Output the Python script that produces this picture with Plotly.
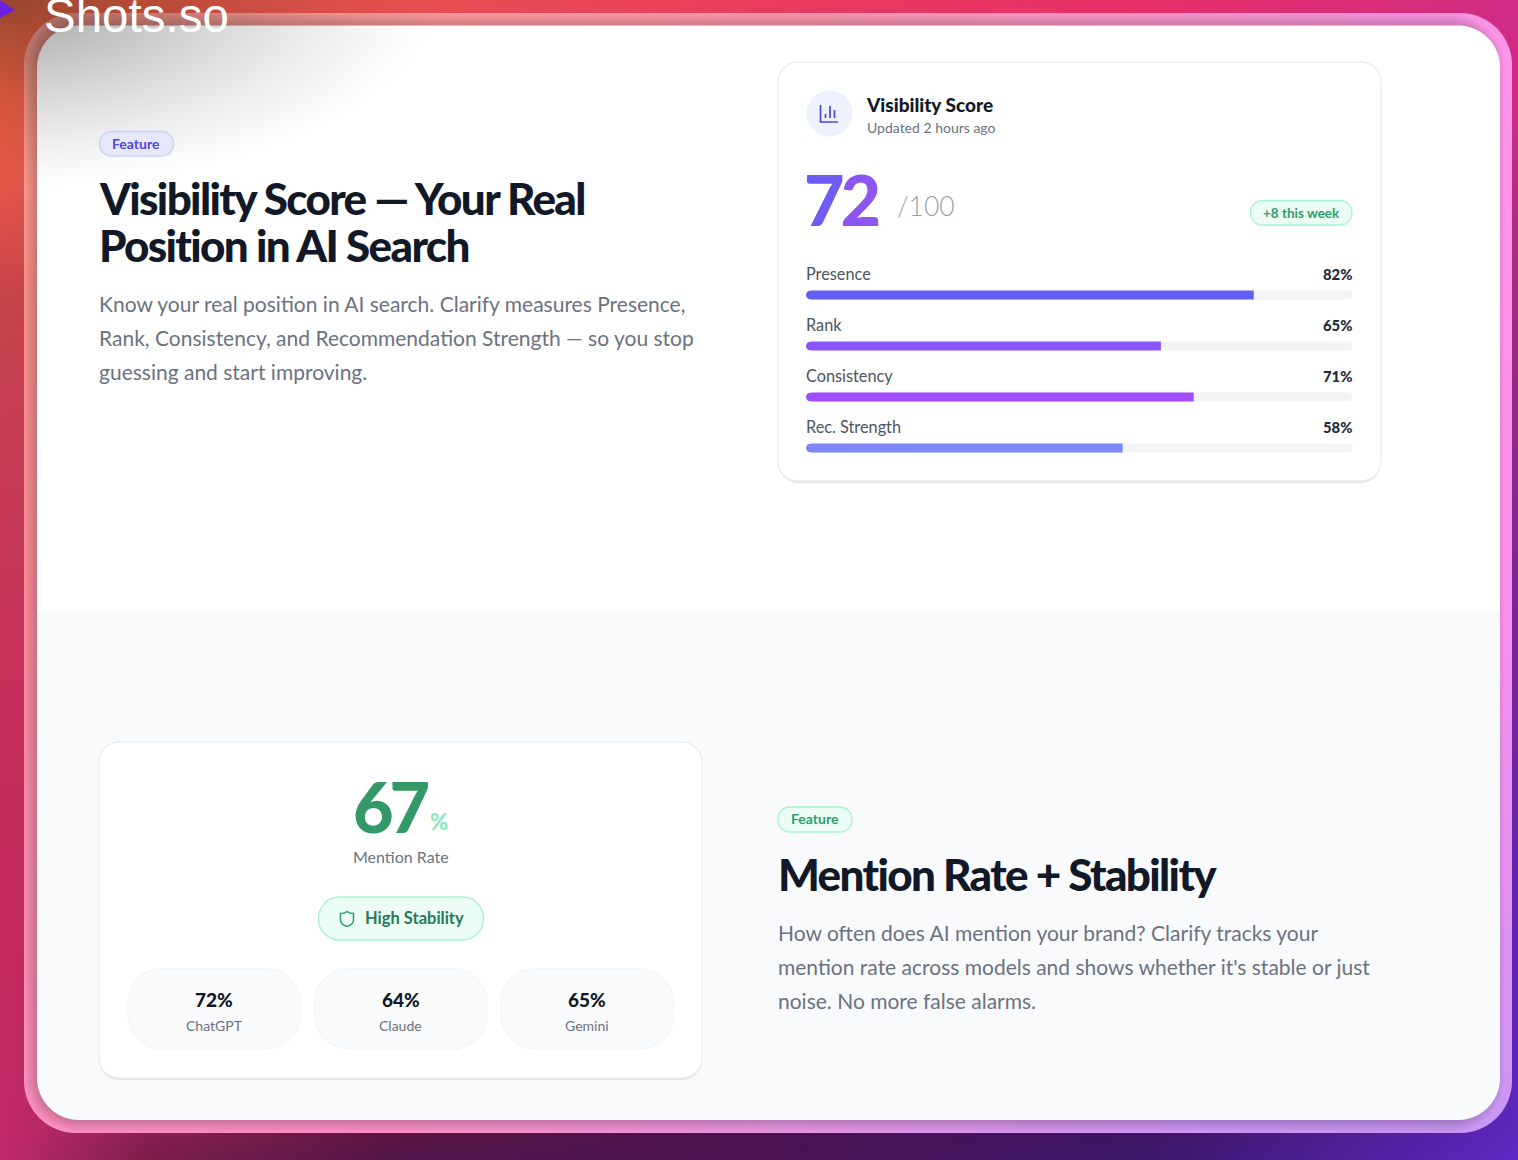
import base64
import struct
import zlib

import numpy as np
import plotly.graph_objects as go

W, H = 1518, 1160

# values
bar_labels = ["Presence", "Rank", "Consistency", "Rec. Strength"]
bar_values = [82, 65, 71, 58]
bar_colors = ["#6060f8", "#8a55fa", "#a34cfc", "#7f88f8"]
model_names = ["ChatGPT", "Claude", "Gemini"]
model_values = [72, 64, 65]
score = 72
mention_rate = 67

body_top = ["Know your real position in AI search. Clarify measures Presence,",
            "Rank, Consistency, and Recommendation Strength — so you stop",
            "guessing and start improving."]
body_bottom = ["How often does AI mention your brand? Clarify tracks your",
               "mention rate across models and shows whether it's stable or just",
               "noise. No more false alarms."]

# wallpaper and frame colours, sampled along the visible edges
bg_x = [0, 150, 400, 760, 1140, 1518]
bg_y = [0, 100, 300, 600, 900, 1130, 1160]
bg_grid = [
    ["#f07048", "#ec6048", "#e85050", "#ea3c5e", "#e83068", "#d02c84"],
    ["#f86448", "#e05048", "#e04a58", "#d83a68", "#d83070", "#cc2c84"],
    ["#c6444c", "#c23f4e", "#c83a58", "#c03468", "#b83078", "#a02a80"],
    ["#c4335a", "#c4335a", "#b0305c", "#a02c70", "#902880", "#7c2498"],
    ["#c42a5c", "#c42a5c", "#90245c", "#702068", "#60208c", "#6024ac"],
    ["#c42a68", "#8a2050", "#5a1640", "#4a1250", "#3e1460", "#5c26bc"],
    ["#c02a6c", "#7a1f48", "#50144a", "#4a1250", "#3a1668", "#6028c4"],
]
frame_x = [0, 400, 800, 1200, 1518]
frame_y = [0, 300, 600, 900, 1160]
frame_grid = [
    ["#ffa090", "#ff9c9c", "#ff98b0", "#ff98d0", "#fc94e8"],
    ["#f89088", "#f89098", "#f890b0", "#f890d0", "#fc92ea"],
    ["#fb8c9c", "#f88ca8", "#f08cc0", "#f08cd8", "#fc90ee"],
    ["#f88cb0", "#f88cb8", "#f08cd0", "#e090e8", "#e090f0"],
    ["#ff90c0", "#ff90c8", "#e898e8", "#cc98fa", "#c498f4"],
]


def to_rgb(code):
    return [int(code[i:i + 2], 16) for i in (1, 3, 5)]


def grid_image(grid, xs, ys):
    # stretch a small colour table over the whole page
    g = np.array([[to_rgb(c) for c in row] for row in grid], dtype=float)
    px, py = np.arange(W), np.arange(H)
    rows = np.stack([np.stack([np.interp(px, xs, g[j, :, k]) for k in range(3)], -1)
                     for j in range(len(ys))])
    return np.stack([np.stack([np.interp(py, ys, rows[:, i, k]) for k in range(3)], -1)
                     for i in range(W)], 1)


def box_dist(x0, y0, x1, y1, r):
    px, py = np.meshgrid(np.arange(W) + 0.5, np.arange(H) + 0.5)
    qx = np.abs(px - (x0 + x1) / 2) - (x1 - x0) / 2 + r
    qy = np.abs(py - (y0 + y1) / 2) - (y1 - y0) / 2 + r
    return np.hypot(np.maximum(qx, 0), np.maximum(qy, 0)) + np.minimum(np.maximum(qx, qy), 0) - r


def backdrop():
    img = grid_image(bg_grid, bg_x, bg_y)
    frame = grid_image(frame_grid, frame_x, frame_y)
    outer = box_dist(24, 13, 1512, 1133, 52)
    inner = box_dist(37, 25.5, 1500, 1120, 42)
    # frame, a little darker where it meets the panel, less so on the right
    lit = box_dist(37, 25.5, 1492, 1120, 42)
    dark = 0.2 * np.clip(1 - lit / 13, 0, 1)
    frame = frame * (1 - dark[..., None])
    a = np.clip(0.5 - outer, 0, 1)[..., None]
    img = img * (1 - a) + frame * a
    # white panel, grey lower section
    panel = np.full((H, W, 3), 255.0)
    panel[612:] = to_rgb("#f9fafb")
    a = np.clip(0.5 - inner, 0, 1)[..., None]
    img = img * (1 - a) + panel * a
    # dark haze in the top left corner
    px, py = np.meshgrid(np.arange(W), np.arange(H))
    r = np.sqrt((px / 440) ** 2 + (py / 190) ** 2)
    haze = 0.37 * np.clip(1 - r, 0, 1) ** 1.25
    img = img * (1 - haze[..., None])
    return np.clip(img + 0.5, 0, 255).astype(np.uint8)


def png_uri(arr):
    raw = b"".join(b"\x00" + arr[i].tobytes() for i in range(arr.shape[0]))

    def chunk(tag, data):
        return struct.pack(">I", len(data)) + tag + data + struct.pack(">I", zlib.crc32(tag + data))

    head = struct.pack(">IIBBBBB", arr.shape[1], arr.shape[0], 8, 2, 0, 0, 0)
    blob = b"\x89PNG\r\n\x1a\n" + chunk(b"IHDR", head) + chunk(b"IDAT", zlib.compress(raw, 9)) + chunk(b"IEND", b"")
    return "data:image/png;base64," + base64.b64encode(blob).decode()


def rr(x0, y0, x1, y1, r):
    # rounded rectangle as a bezier path
    k = r * 0.45
    return (f"M{x0 + r},{y0} L{x1 - r},{y0} C{x1 - k},{y0} {x1},{y0 + k} {x1},{y0 + r} "
            f"L{x1},{y1 - r} C{x1},{y1 - k} {x1 - k},{y1} {x1 - r},{y1} "
            f"L{x0 + r},{y1} C{x0 + k},{y1} {x0},{y1 - k} {x0},{y1 - r} "
            f"L{x0},{y0 + r} C{x0},{y0 + k} {x0 + k},{y0} {x0 + r},{y0} Z")


shapes = []


def box(x0, y0, x1, y1, r, fill, line=None, lw=1):
    shapes.append(dict(type="path", path=rr(x0, y0, x1, y1, r), xref="x", yref="y", layer="below",
                       fillcolor=fill, line=dict(color=line or fill, width=lw if line else 0)))


def stroke(path, color, lw=1.6, fill="rgba(0,0,0,0)"):
    shapes.append(dict(type="path", path=path, xref="x", yref="y", layer="below",
                       fillcolor=fill, line=dict(color=color, width=lw)))


annots = []
OUTFIT = "Lato"


def txt(x, y, s, size, color, weight=400, anchor="left", family=OUTFIT, **kw):
    annots.append(dict(x=x, y=y, xref=kw.pop("xref", "x"), yref=kw.pop("yref", "y"), text=s, showarrow=False,
                       xanchor=anchor, align=anchor, yanchor="middle", borderpad=0,
                       font=dict(family=family, size=size, color=color, weight=weight), **kw))


INK = "#111827"
GREY = "#6b7280"
GREEN = "#2f9e6e"
MINT = "#ecfdf5"
MINT_LINE = "#a7f3d0"

# corner bits of the wallpaper
stroke("M0,0 L15,10 L0,18 Z", "#6a22e0", 0, "#6a22e0")
txt(43, 15, "Shots.so", 47.5, "#ffffff", family="Liberation Sans")

# top left text block
box(99.5, 131.5, 173.5, 156, 12, "#e6e8fa", "#c7d2fe", 1.3)
txt(136, 143.5, "Feature", 14, "#4f46e5", 700, "center")
txt(98, 198, "Visibility Score — Your Real", 44, INK, 900)
txt(98, 245, "Position in AI Search", 44, INK, 900)
for i, line in enumerate(body_top):
    txt(98, 303 + 34 * i, line, 21, GREY)

# score card
box(778, 64, 1381, 483, 20, "#e5e7eb")
box(778, 62, 1381, 481, 20, "#ffffff", "#eceef1", 1.5)
shapes.append(dict(type="circle", xref="x", yref="y", layer="below", x0=806.5, y0=90.5, x1=852.5, y1=136.5,
                   fillcolor="#eef2ff", line=dict(width=0)))
stroke("M820.5,105 L820.5,122 L838,122", "#4f46e5", 1.7)
stroke("M825.5,118 L825.5,114 M830,118 L830,106 M834.5,118 L834.5,110", "#4f46e5", 1.7)
txt(864.5, 104, "Visibility Score", 19, INK, 900)
txt(865.5, 127, "Updated 2 hours ago", 14, GREY)
score_txt = str(score)
txt(803, 199, f"<span style='color:#6f5cf3'>{score_txt[0]}</span><span style='color:#8d55f1'>{score_txt[1]}</span>",
    70, "#8d55f1", 900)
txt(895.5, 206, "/100", 26.5, "#9ca3af", 300)
box(1250.5, 200.5, 1352, 225, 12, MINT, MINT_LINE, 1.3)
txt(1301, 212.5, "+8 this week", 13.5, GREEN, 700, "center")

for name, val in zip(bar_labels, bar_values):
    txt(0, name, name, 16.3, "#4b5563", xref="x2", yref="y2", yshift=22, xshift=-1)
    txt(100, name, f"{val}%", 14.8, "#1f2937", 900, "right", xref="x2", yref="y2", yshift=21, xshift=1)

# round off the left ends of the bars, the bars themselves only round the far end
for cy in (295, 346, 397, 448):
    for sign in (-1, 1):
        stroke(f"M805,{cy + sign * 5.5} L811,{cy + sign * 5.5} L811,{cy + sign * 4.5} "
               f"C808,{cy + sign * 4.5} 806,{cy + sign * 2.5} 806,{cy} L805,{cy} Z", "#ffffff", 0, "#ffffff")
        shapes[-1]["layer"] = "above"

# mention rate card
box(99, 744, 702, 1080, 20, "#e3e5e8")
box(99, 742, 702, 1078, 20, "#ffffff", "#eceef1", 1.5)
txt(352, 806, str(mention_rate), 70, "#339966", 900)
txt(428.5, 821, "%", 22, "#8aeabc", 900)
txt(400.5, 856, "Mention Rate", 16, GREY, 400, "center")
box(318.5, 897, 483.5, 940, 21, MINT, MINT_LINE, 1.3)
stroke("M347,911.5 C344.5,913.5 342.5,913.5 340.5,913.5 L340.5,920 C340.5,923.5 344,925.5 347,926.5 "
       "C350,925.5 353.5,923.5 353.5,920 L353.5,913.5 C351.5,913.5 349.5,913.5 347,911.5 Z", GREEN, 1.5)
txt(364, 918, "High Stability", 16.5, "#267a58", 700)
tile_x = [128, 314.5, 501]
for x0, name, val in zip(tile_x, model_names, model_values):
    box(x0, 968.5, x0 + 172.5, 1049, 34, "#f9fafb", "#f3f4f6", 1)
    txt(x0 + 86, 999.5, f"{val}%", 19, INK, 900, "center")
    txt(x0 + 86, 1025.5, name, 14, GREY, 400, "center")

# lower right text block
box(778, 807, 852, 832, 12, MINT, MINT_LINE, 1.3)
txt(815, 818.5, "Feature", 14, GREEN, 700, "center")
txt(777, 874, "Mention Rate + Stability", 44, INK, 900)
for i, line in enumerate(body_bottom):
    txt(777, 932 + 34 * i, line, 21, GREY)

fig = go.Figure()
# empty trace so the page axes exist for the shapes
fig.add_trace(go.Scatter(x=[0, W], y=[0, H], mode="markers", marker=dict(opacity=0), hoverinfo="skip", showlegend=False))
fig.add_trace(go.Bar(x=[100] * len(bar_labels), y=bar_labels, orientation="h", xaxis="x2", yaxis="y2",
                     width=9 / 51, marker=dict(color="#f3f4f6", line=dict(width=0)), showlegend=False, hoverinfo="skip"))
fig.add_trace(go.Bar(x=bar_values, y=bar_labels, orientation="h", xaxis="x2", yaxis="y2",
                     width=9 / 51, marker=dict(color=bar_colors, line=dict(width=0)), showlegend=False))

hidden = dict(visible=False, fixedrange=True, showgrid=False, zeroline=False)
fig.update_layout(
    width=W, height=H, margin=dict(l=0, r=0, t=0, b=0),
    paper_bgcolor="#ffffff", plot_bgcolor="rgba(0,0,0,0)",
    barmode="overlay", barcornerradius=4,
    xaxis=dict(range=[0, W], domain=[0, 1], **hidden),
    yaxis=dict(range=[H, 0], domain=[0, 1], **hidden),
    xaxis2=dict(range=[0, 100], domain=[806 / W, 1352 / W], anchor="y2", **hidden),
    yaxis2=dict(type="category", categoryorder="array", categoryarray=bar_labels, range=[3.5, -0.5],
                domain=[1 - 473.5 / H, 1 - 269.5 / H], anchor="x2", **hidden),
    images=[dict(source=png_uri(backdrop()), xref="paper", yref="paper", x=0, y=1, sizex=1, sizey=1,
                 xanchor="left", yanchor="top", sizing="stretch", layer="below")],
    shapes=shapes, annotations=annots,
)
# tight tracking on the big headings and numbers, plotly has no font option for it
tighten = """
document.body.style.margin='0';document.body.style.overflow='hidden';
document.querySelectorAll('.annotation-text').forEach(function(t){
  var s=parseFloat(t.style.fontSize);
  if(s==44){t.style.letterSpacing='-1.65px';}
  if(s==70){t.style.letterSpacing='-4px';}
});
"""
fig.write_html("out.html", config={"displayModeBar": False}, post_script=tighten)
